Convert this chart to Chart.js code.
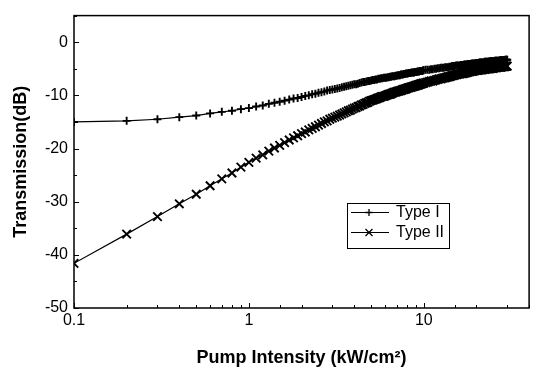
<!DOCTYPE html>
<html>
<head>
<meta charset="utf-8">
<script src="https://cdn.jsdelivr.net/npm/chart.js@4.4.0/dist/chart.umd.min.js"></script>
<style>
    html, body { margin: 0; padding: 0; background: #fff; }
    #wrap { width: 537px; height: 371px; position: relative; }
</style>
</head>
<body>
<div id="wrap"><canvas id="chart"></canvas></div>
<script>
// Pump intensity (kW/cm2) - x values
const intensity = [
    0.1, 0.2, 0.3, 0.4, 0.5, 0.6, 0.7, 0.8, 0.9, 1.0,
    1.1, 1.2, 1.3, 1.4, 1.5, 1.6, 1.7, 1.8, 1.9, 2.0,
    2.1, 2.2, 2.3, 2.4, 2.5, 2.6, 2.7, 2.8, 2.9, 3.0,
    3.1, 3.2, 3.3, 3.4, 3.5, 3.6, 3.7, 3.8, 3.9, 4.0,
    4.1, 4.2, 4.3, 4.4, 4.5, 4.6, 4.7, 4.8, 4.9, 5.0,
    5.1, 5.2, 5.3, 5.4, 5.5, 5.6, 5.7, 5.8, 5.9, 6.0,
    6.1, 6.2, 6.3, 6.4, 6.5, 6.6, 6.7, 6.8, 6.9, 7.0,
    7.1, 7.2, 7.3, 7.4, 7.5, 7.6, 7.7, 7.8, 7.9, 8.0,
    8.1, 8.2, 8.3, 8.4, 8.5, 8.6, 8.7, 8.8, 8.9, 9.0,
    9.1, 9.2, 9.3, 9.4, 9.5, 9.6, 9.7, 9.8, 9.9, 10,
    10.25, 10.5, 10.75, 11, 11.25, 11.5, 11.75, 12, 12.25, 12.5,
    12.75, 13, 13.25, 13.5, 13.75, 14, 14.25, 14.5, 14.75, 15,
    15.25, 15.5, 15.75, 16, 16.25, 16.5, 16.75, 17, 17.25, 17.5,
    17.75, 18, 18.25, 18.5, 18.75, 19, 19.25, 19.5, 19.75, 20,
    20.25, 20.5, 20.75, 21, 21.25, 21.5, 21.75, 22, 22.25, 22.5,
    22.75, 23, 23.25, 23.5, 23.75, 24, 24.25, 24.5, 24.75, 25,
    25.25, 25.5, 25.75, 26, 26.25, 26.5, 26.75, 27, 27.25, 27.5,
    27.75, 28, 28.25, 28.5, 28.75, 29, 29.25, 29.5, 29.75, 30
];

// Transmission (dB), Type I
const typeI = [
    -15.0, -14.8, -14.5, -14.1, -13.8, -13.4, -13.1, -12.9, -12.6, -12.4,
    -12.1, -11.9, -11.6, -11.4, -11.2, -11.0, -10.8, -10.6, -10.5, -10.3,
    -10.1, -10.0, -9.8, -9.7, -9.5, -9.4, -9.3, -9.1, -9.0, -8.9,
    -8.8, -8.7, -8.6, -8.5, -8.4, -8.3, -8.2, -8.1, -8.0, -7.9,
    -7.9, -7.8, -7.7, -7.6, -7.5, -7.5, -7.4, -7.3, -7.3, -7.2,
    -7.1, -7.1, -7.0, -7.0, -6.9, -6.9, -6.8, -6.8, -6.7, -6.7,
    -6.7, -6.6, -6.6, -6.5, -6.5, -6.4, -6.4, -6.4, -6.3, -6.3,
    -6.2, -6.2, -6.2, -6.1, -6.1, -6.1, -6.0, -6.0, -5.9, -5.9,
    -5.9, -5.8, -5.8, -5.8, -5.7, -5.7, -5.7, -5.7, -5.6, -5.6,
    -5.6, -5.5, -5.5, -5.5, -5.4, -5.4, -5.4, -5.4, -5.3, -5.3,
    -5.2, -5.2, -5.2, -5.1, -5.1, -5.0, -5.0, -4.9, -4.9, -4.8,
    -4.8, -4.8, -4.7, -4.7, -4.7, -4.6, -4.6, -4.5, -4.5, -4.5,
    -4.4, -4.4, -4.4, -4.4, -4.3, -4.3, -4.3, -4.2, -4.2, -4.2,
    -4.1, -4.1, -4.1, -4.1, -4.0, -4.0, -4.0, -4.0, -3.9, -3.9,
    -3.9, -3.9, -3.8, -3.8, -3.8, -3.8, -3.8, -3.8, -3.7, -3.7,
    -3.7, -3.7, -3.7, -3.7, -3.6, -3.6, -3.6, -3.6, -3.6, -3.6,
    -3.6, -3.5, -3.5, -3.5, -3.5, -3.5, -3.5, -3.5, -3.4, -3.4,
    -3.4, -3.4, -3.4, -3.4, -3.4, -3.4, -3.3, -3.3, -3.3, -3.3
];

// Transmission (dB), Type II
const typeII = [
    -41.6, -36.1, -32.8, -30.4, -28.6, -27.0, -25.7, -24.6, -23.5, -22.6,
    -21.8, -21.2, -20.5, -19.9, -19.4, -18.9, -18.4, -18.0, -17.6, -17.2,
    -16.9, -16.5, -16.2, -15.9, -15.6, -15.3, -15.0, -14.8, -14.5, -14.3,
    -14.1, -13.9, -13.7, -13.5, -13.3, -13.1, -12.9, -12.8, -12.6, -12.4,
    -12.3, -12.1, -12.0, -11.8, -11.7, -11.5, -11.4, -11.3, -11.1, -11.0,
    -10.9, -10.8, -10.7, -10.6, -10.5, -10.4, -10.3, -10.2, -10.2, -10.1,
    -10.0, -9.9, -9.8, -9.8, -9.7, -9.6, -9.5, -9.4, -9.4, -9.3,
    -9.2, -9.2, -9.1, -9.1, -9.0, -8.9, -8.9, -8.8, -8.8, -8.7,
    -8.6, -8.6, -8.5, -8.5, -8.4, -8.4, -8.3, -8.3, -8.2, -8.2,
    -8.1, -8.1, -8.0, -8.0, -7.9, -7.9, -7.8, -7.8, -7.7, -7.7,
    -7.6, -7.5, -7.4, -7.3, -7.3, -7.2, -7.1, -7.0, -6.9, -6.9,
    -6.8, -6.7, -6.7, -6.6, -6.5, -6.5, -6.4, -6.3, -6.3, -6.2,
    -6.1, -6.1, -6.0, -6.0, -5.9, -5.9, -5.9, -5.8, -5.8, -5.7,
    -5.7, -5.6, -5.6, -5.5, -5.5, -5.5, -5.4, -5.4, -5.3, -5.3,
    -5.3, -5.3, -5.2, -5.2, -5.2, -5.2, -5.1, -5.1, -5.1, -5.1,
    -5.0, -5.0, -5.0, -5.0, -5.0, -4.9, -4.9, -4.9, -4.9, -4.9,
    -4.8, -4.8, -4.8, -4.8, -4.8, -4.7, -4.7, -4.7, -4.7, -4.7,
    -4.7, -4.6, -4.6, -4.6, -4.6, -4.6, -4.5, -4.5, -4.5, -4.5
];

const xLabels = [0.1, 1, 10];
const yLabels = [-50, -40, -30, -20, -10, 0];
const seriesNames = ['Type I', 'Type II'];

const FONT = "'Liberation Sans', Arial, sans-serif";

const toPoints = (ys) => intensity.map((x, i) => ({ x: x, y: ys[i] }));
const isLabelX = (v) => xLabels.some(l => Math.abs(v - l) < 1e-9);

// frame, inward ticks and the boxed legend
const framePlugin = {
    id: 'frame',
    afterDraw(chart) {
        const { ctx, chartArea: a, scales } = chart;
        ctx.save();
        ctx.strokeStyle = '#000';
        ctx.lineWidth = 1.5;
        ctx.strokeRect(a.left, a.top, a.right - a.left, a.bottom - a.top);

        ctx.lineWidth = 1;
        ctx.beginPath();
        scales.x.ticks.forEach(t => {
            const px = Math.round(scales.x.getPixelForValue(t.value)) + 0.5;
            const len = isLabelX(t.value) ? 5 : 3;
            ctx.moveTo(px, a.bottom);
            ctx.lineTo(px, a.bottom - len);
        });
        scales.y.ticks.forEach(t => {
            const py = Math.round(scales.y.getPixelForValue(t.value)) + 0.5;
            const len = yLabels.includes(t.value) ? 5 : 3;
            ctx.moveTo(a.left, py);
            ctx.lineTo(a.left + len, py);
        });
        ctx.stroke();

        // legend
        const bx = 347, by = 203, bw = 102, bh = 45;
        ctx.strokeRect(bx + 0.5, by + 0.5, bw, bh);
        const rows = [by + 9, by + 29];
        ctx.font = '16px ' + FONT;
        ctx.fillStyle = '#000';
        ctx.textBaseline = 'middle';
        rows.forEach((ry, i) => {
            ctx.beginPath();
            ctx.moveTo(bx + 4, ry + 0.5);
            ctx.lineTo(bx + 42, ry + 0.5);
            ctx.stroke();
            const cx = bx + 22;
            ctx.beginPath();
            ctx.lineWidth = 1.3;
            if (i === 0) {
                ctx.moveTo(cx - 3.5, ry + 0.5); ctx.lineTo(cx + 3.5, ry + 0.5);
                ctx.moveTo(cx, ry - 3); ctx.lineTo(cx, ry + 4);
            } else {
                ctx.moveTo(cx - 3.5, ry - 3); ctx.lineTo(cx + 3.5, ry + 4);
                ctx.moveTo(cx - 3.5, ry + 4); ctx.lineTo(cx + 3.5, ry - 3);
            }
            ctx.stroke();
            ctx.lineWidth = 1;
            ctx.fillText(seriesNames[i], bx + 49, ry + 1);
        });
        ctx.restore();
    }
};

new Chart(document.getElementById('chart'), {
    type: 'scatter',
    data: {
        datasets: [{
            label: seriesNames[0],
            data: toPoints(typeI),
            showLine: true,
            borderColor: '#000',
            borderWidth: 1.2,
            pointStyle: 'cross',
            pointRadius: 4,
            pointBorderColor: '#000',
            pointBorderWidth: 1.9
        }, {
            label: seriesNames[1],
            data: toPoints(typeII),
            showLine: true,
            borderColor: '#000',
            borderWidth: 1.2,
            pointStyle: 'crossRot',
            pointRadius: 6,
            pointBorderColor: '#000',
            pointBorderWidth: 1.9
        }]
    },
    options: {
        responsive: true,
        maintainAspectRatio: false,
        animation: false,
        layout: { padding: { top: 6, right: 2, left: 0, bottom: 0 } },
        plugins: {
            legend: { display: false },
            tooltip: { enabled: false }
        },
        scales: {
            x: {
                type: 'logarithmic',
                min: 0.1,
                max: 40,
                grid: { display: false, drawTicks: false },
                border: { display: false },
                afterFit: (s) => { s.height = 63; },
                ticks: {
                    autoSkip: false,
                    maxRotation: 0,
                    padding: 3,
                    color: '#000',
                    font: { family: FONT, size: 16 },
                    callback: (v) => isLabelX(v) ? String(v) : ''
                },
                title: {
                    display: true,
                    text: 'Pump Intensity (kW/cm²)',
                    color: '#000',
                    font: { family: FONT, size: 18, weight: 'bold' },
                    padding: { top: 0, bottom: 2 }
                }
            },
            y: {
                min: -50,
                max: 5,
                grid: { display: false, drawTicks: false },
                border: { display: false },
                afterFit: (s) => { s.width = 74; },
                ticks: {
                    stepSize: 5,
                    autoSkip: false,
                    padding: 6,
                    color: '#000',
                    font: { family: FONT, size: 16 },
                    callback: (v) => yLabels.includes(v) ? String(v) : ''
                },
                title: {
                    display: true,
                    text: 'Transmission(dB)',
                    color: '#000',
                    font: { family: FONT, size: 18, weight: 'bold' },
                    padding: { top: 10, bottom: 0 }
                }
            }
        }
    },
    plugins: [framePlugin]
});
</script>
</body>
</html>
